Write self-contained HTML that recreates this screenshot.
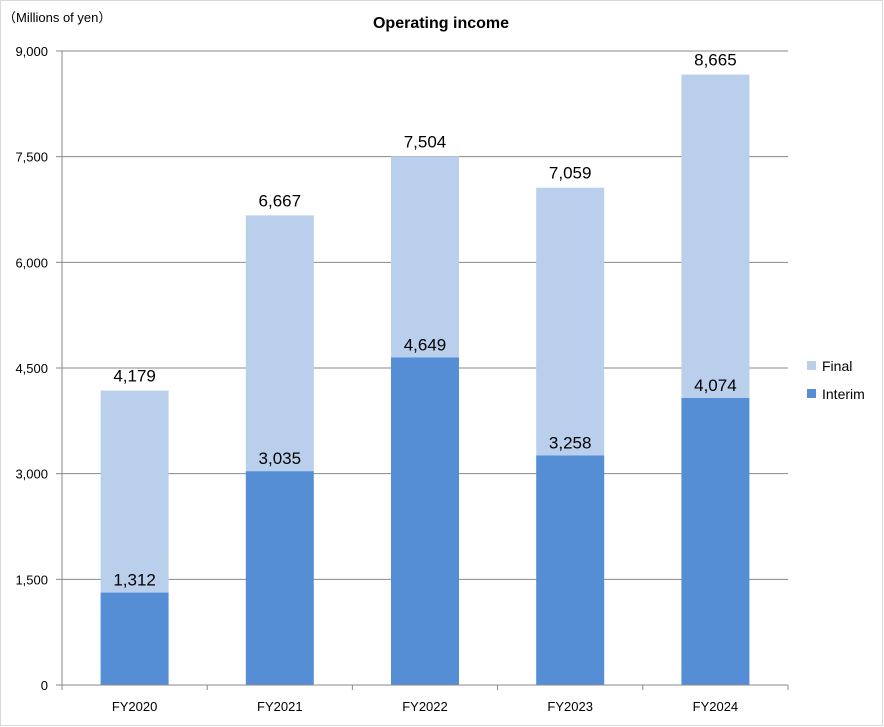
<!DOCTYPE html>
<html><head><meta charset="utf-8"><style>
body{margin:0;background:#fff;}
svg{display:block;font-family:"Liberation Sans","Noto Sans CJK JP",sans-serif;}
</style></head><body>
<svg id="chart" width="884" height="727">
<rect x="0.5" y="0.5" width="882" height="725" fill="#fff" stroke="#d9d9d9"/>
<text x="3" y="22" font-size="13" fill="#000">（Millions of yen）</text>
<text x="441" y="28" font-size="16" font-weight="bold" text-anchor="middle">Operating income</text>
<g id="grid"></g><g id="bars"></g><g id="labels"></g><g id="axes"></g>
<g>
<rect x="807" y="361" width="9" height="9" fill="#B9CFEC"/>
<text x="822" y="371" font-size="14">Final</text>
<rect x="807" y="389" width="9" height="9" fill="#558ED5"/>
<text x="822" y="399" font-size="14">Interim</text>
</g>
</svg>
<script>
const categories=["FY2020","FY2021","FY2022","FY2023","FY2024"];
const interim=[1312,3035,4649,3258,4074];
const totals=[4179,6667,7504,7059,8665];
const yTicks=[0,1500,3000,4500,6000,7500,9000];
const ns="http://www.w3.org/2000/svg";
const X0=62,X1=788,Y0=685,Y1=51,YMAX=9000;
const y=v=>Y0-(v/YMAX)*(Y0-Y1);
const band=(X1-X0)/categories.length;
const xc=i=>X0+band*(i+0.5);
function mk(tag,attrs,parent){const e=document.createElementNS(ns,tag);for(const k in attrs)e.setAttribute(k,attrs[k]);document.getElementById(parent).appendChild(e);return e;}
const fmt=v=>v.toLocaleString('en-US');
yTicks.forEach(t=>{
 if(t>0){const g=mk('line',{x1:X0,x2:X1,y1:y(t),y2:y(t),stroke:'#888','stroke-width':1},'grid');
 
 }
 const tk=mk('line',{x1:X0-6,x2:X0,y1:y(t),y2:y(t),stroke:'#888'},'axes');
 
 
 const tl=mk('text',{x:X0-14,y:y(t)+5,'font-size':13,'text-anchor':'end'},'axes');
 tl.textContent=fmt(t);
 
 
});
const ya=mk('line',{x1:X0,x2:X0,y1:Y1,y2:Y0,stroke:'#888'},'axes');


const xa=mk('line',{x1:X0,x2:X1,y1:Y0,y2:Y0,stroke:'#888'},'axes');


for(let i=0;i<=categories.length;i++){
 const t=mk('line',{x1:X0+band*i,x2:X0+band*i,y1:Y0,y2:Y0+5,stroke:'#888'},'axes');
 
 
}
const bw=68;
categories.forEach((c,i)=>{
 const fb=mk('rect',{x:xc(i)-bw/2,y:y(totals[i]),width:bw,height:y(interim[i])-y(totals[i]),fill:'#B9CFEC'},'bars');
 
 
 const ib=mk('rect',{x:xc(i)-bw/2,y:y(interim[i]),width:bw,height:Y0-y(interim[i]),fill:'#558ED5'},'bars');
 
 
 const l1=mk('text',{x:xc(i),y:y(interim[i])-7,'font-size':17,'text-anchor':'middle'},'labels');
 l1.textContent=fmt(interim[i]);
 
 
 const l2=mk('text',{x:xc(i),y:y(totals[i])-9,'font-size':17,'text-anchor':'middle'},'labels');
 l2.textContent=fmt(totals[i]);
 
 
 const cl=mk('text',{x:xc(i),y:711,'font-size':13,'text-anchor':'middle'},'labels');
 cl.textContent=c;
 
 
});
</script>
</body></html>
